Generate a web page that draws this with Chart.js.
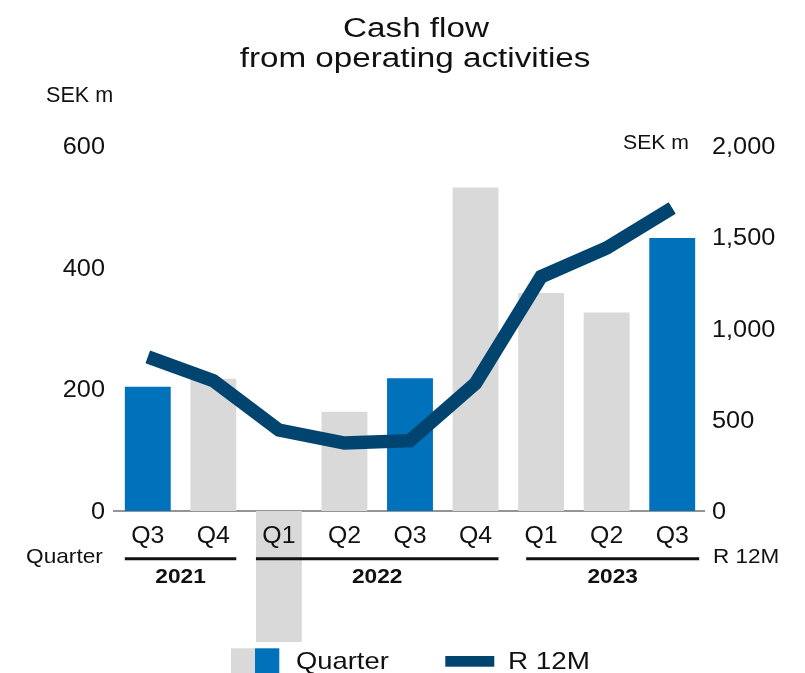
<!DOCTYPE html>
<html>
<head>
<meta charset="utf-8">
<script src="https://cdn.jsdelivr.net/npm/chart.js@4/dist/chart.umd.min.js"></script>
<style>
html,body{margin:0;padding:0;background:#fff;}
#wrap{width:805px;height:673px;position:relative;}
</style>
</head>
<body>
<div id="wrap"><canvas id="c" width="805" height="673"></canvas></div>
<script>
// ---- data ----
const quarters = ['Q3','Q4','Q1','Q2','Q3','Q4','Q1','Q2','Q3'];
const quarterValues = [204, 217, -215, 163, 218, 531, 358, 326, 448];
const r12mValues = [843, 713, 443, 372, 385, 699, 1282, 1439, 1658];
const highlighted = [true, false, false, false, true, false, false, false, true];
const years = ['2021', '2022', '2023'];
const yearFirstIdx = [0, 2, 6];
const yearLastIdx = [1, 5, 8];
const leftTicks = [0, 200, 400, 600];
const rightTicks = [0, 500, 1000, 1500, 2000];
const rightTickLabels = ['0', '500', '1,000', '1,500', '2,000'];

// ---- styles ----
const BLUE = '#0072bc';
const GREY = '#d9d9d9';
const NAVY = '#00446f';
const TXT = '#111111';
const FONT = '"Liberation Sans", Arial, Helvetica, sans-serif';

function txt(ctx, s, x, y, size, sx, align, bold) {
  ctx.save();
  ctx.font = (bold ? 'bold ' : '') + size + 'px ' + FONT;
  ctx.fillStyle = TXT;
  ctx.textAlign = align || 'left';
  ctx.textBaseline = 'alphabetic';
  ctx.translate(x, y);
  ctx.scale(sx, 1);
  ctx.fillText(s, 0, 0);
  ctx.restore();
}

const decor = {
  id: 'decor',
  beforeDatasetsDraw(chart) {
    const ctx = chart.ctx;
    const y0 = chart.scales.y.getPixelForValue(0);
    ctx.save();
    ctx.strokeStyle = '#707070';
    ctx.lineWidth = 1.5;
    ctx.beginPath();
    ctx.moveTo(113, y0);
    ctx.lineTo(chart.chartArea.right, y0);
    ctx.stroke();
    ctx.restore();
  },
  afterDatasetsDraw(chart) {
    const ctx = chart.ctx;
    const xs = chart.scales.x, yl = chart.scales.y, yr = chart.scales.y2;
    // title
    txt(ctx, 'Cash flow', 416, 36.7, 27, 1.23, 'center');
    txt(ctx, 'from operating activities', 415, 66.7, 27, 1.23, 'center');
    // axis units
    txt(ctx, 'SEK m', 46, 101.5, 22, 0.98, 'left');
    txt(ctx, 'SEK m', 623, 149.3, 20, 1.06, 'left');
    // left ticks
    leftTicks.forEach(v => {
      txt(ctx, String(v), 105, yl.getPixelForValue(v) + 8.3, 23, 1.1, 'right');
    });
    // right ticks
    rightTicks.forEach((v, i) => {
      txt(ctx, rightTickLabels[i], 712, yr.getPixelForValue(v) + 8.3, 23, 1.1, 'left');
    });
    // quarter labels
    const meta = chart.getDatasetMeta(1);
    quarters.forEach((q, i) => {
      txt(ctx, q, xs.getPixelForValue(i), 542.5, 23, 1.08, 'center');
    });
    txt(ctx, 'Quarter', 26, 563.3, 21, 1.08, 'left');
    txt(ctx, 'R 12M', 713, 563.3, 21, 1.07, 'left');
    // year groups
    ctx.save();
    ctx.strokeStyle = '#111';
    ctx.lineWidth = 3;
    years.forEach((yName, k) => {
      const b1 = meta.data[yearFirstIdx[k]], b2 = meta.data[yearLastIdx[k]];
      const xa = b1.x - b1.width / 2 + (k === 2 ? 8 : 0);
      const xb = b2.x + b2.width / 2 + (k === 2 ? 4 : 0);
      ctx.beginPath();
      ctx.moveTo(xa, 558.7);
      ctx.lineTo(xb, 558.7);
      ctx.stroke();
      txt(ctx, yName, (xa + xb) / 2, 583.3, 21, 1.08, 'center', true);
    });
    ctx.restore();
    // legend
    ctx.save();
    ctx.fillStyle = GREY;
    ctx.fillRect(231, 648.3, 24, 30);
    ctx.fillStyle = BLUE;
    ctx.fillRect(255, 648.3, 24.3, 30);
    ctx.fillStyle = NAVY;
    ctx.fillRect(445.3, 656, 49, 10.7);
    ctx.restore();
    txt(ctx, 'Quarter', 296, 669.3, 24, 1.14, 'left');
    txt(ctx, 'R 12M', 508, 669.3, 24, 1.16, 'left');
  }
};

new Chart(document.getElementById('c'), {
  data: {
    labels: quarters.map((q, i) => q + '-' + i),
    datasets: [
      {
        type: 'line',
        label: 'R 12M',
        data: r12mValues,
        yAxisID: 'y2',
        borderColor: NAVY,
        borderWidth: 13.5,
        borderCapStyle: 'butt',
        borderJoinStyle: 'miter',
        pointRadius: 0,
        tension: 0,
        fill: false,
        order: 0
      },
      {
        type: 'bar',
        label: 'Quarter',
        data: quarterValues,
        yAxisID: 'y',
        backgroundColor: highlighted.map(h => h ? BLUE : GREY),
        borderWidth: 0,
        barPercentage: 0.7,
        categoryPercentage: 1.0,
        order: 1
      }
    ]
  },
  options: {
    responsive: false,
    animation: false,
    layout: { padding: { left: 115, right: 100, top: 145.5, bottom: 28 } },
    plugins: { legend: { display: false }, tooltip: { enabled: false }, title: { display: false } },
    scales: {
      x: { display: false, offset: true, grid: { display: false } },
      y: { display: false, min: -220, max: 600, grid: { display: false } },
      y2: { display: false, position: 'right', min: -733.33, max: 2000, grid: { display: false } }
    }
  },
  plugins: [decor]
});
</script>
</body>
</html>
